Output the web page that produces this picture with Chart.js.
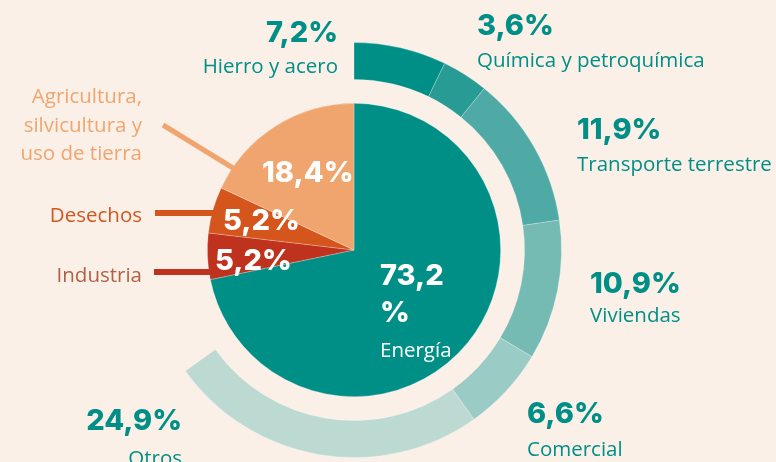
<!DOCTYPE html>
<html>
<head>
<meta charset="utf-8">
<script src="https://cdn.jsdelivr.net/npm/chart.js@4.4.1/dist/chart.umd.min.js"></script>
<style>
  html, body { margin: 0; padding: 0; background: #faf0e8; }
  #wrap { width: 776px; height: 462px; position: relative; }
</style>
</head>
<body>
<div id="wrap"><canvas id="chart" width="776" height="462"></canvas></div>
<script>
// emisiones por sector (circulo interior) y subsectores de energia (anillo)
var sector_labels = ['Energía', 'Industria', 'Desechos', 'Agricultura, silvicultura y uso de tierra'];
var sector_values = [73.2, 5.2, 5.2, 18.4];
var sector_colors = ['#008f86', '#bf321e', '#d4561d', '#f0a56e'];

var energy_labels = ['Hierro y acero', 'Química y petroquímica', 'Transporte terrestre', 'Viviendas', 'Comercial', 'Otros'];
var energy_values = [7.2, 3.6, 11.9, 10.9, 6.6, 24.9];
var energy_colors = ['#008f86', '#289b94', '#4faaa6', '#76bab4', '#9bcbc5', '#bcd9d2'];

var TEAL = '#008f86';
var BOLD = '800 29px Inter, "Open Sans", sans-serif';
var REG = '20.5px "Open Sans", sans-serif';

function fmt(v) {
    return v.toFixed(1).replace('.', ',') + '%';
}

// anillo: el resto hasta 100% queda vacio
var ring_rest = 100 - energy_values.reduce(function (a, b) { return a + b; }, 0);

function ring_data() {
    return {
        data: energy_values.concat([ring_rest]),
        backgroundColor: energy_colors.concat(['rgba(0,0,0,0)']),
        borderColor: 'rgba(255,255,255,0.25)',
        borderWidth: energy_values.map(function () { return 1; }).concat([0]),
        weight: 37
    };
}

// anotaciones: [texto, x, y, align, font, color]
var notes = [
    [fmt(energy_values[0]), 338, 42, 'right', BOLD, TEAL],
    [energy_labels[0], 338, 73, 'right', REG, TEAL],
    [fmt(energy_values[1]), 477, 35, 'left', BOLD, TEAL],
    [energy_labels[1], 477, 67, 'left', REG, TEAL],
    [fmt(energy_values[2]), 577, 139, 'left', BOLD, TEAL],
    [energy_labels[2], 577, 171, 'left', REG, TEAL],
    [fmt(energy_values[3]), 590, 293, 'left', BOLD, TEAL],
    [energy_labels[3], 590, 322, 'left', REG, TEAL],
    [fmt(energy_values[4]), 527, 423, 'left', BOLD, TEAL],
    [energy_labels[4], 527, 456, 'left', REG, TEAL],
    [fmt(energy_values[5]), 182, 430, 'right', BOLD, TEAL],
    [energy_labels[5], 182, 465, 'right', REG, TEAL],
    ['Agricultura,', 142, 103, 'right', REG, '#f0a56e'],
    ['silvicultura y', 142, 132, 'right', REG, '#f0a56e'],
    ['uso de tierra', 142, 160, 'right', REG, '#f0a56e'],
    [sector_labels[2], 142, 222, 'right', REG, '#d4561d'],
    [sector_labels[1], 142, 282, 'right', REG, '#b35f44'],
    [fmt(sector_values[3]), 262, 182, 'left', BOLD, '#ffffff'],
    [fmt(sector_values[2]), 223, 230, 'left', BOLD, '#ffffff'],
    [fmt(sector_values[1]), 215, 270, 'left', BOLD, '#ffffff'],
    ['73,2', 380, 285, 'left', BOLD, '#ffffff'],
    ['%', 380, 322, 'left', BOLD, '#ffffff'],
    [sector_labels[0], 380, 357, 'left', REG, '#ffffff']
];

// lineas guia: [x1, y1, x2, y2, ancho, color]
var leaders = [
    [163, 125, 233, 168, 5, '#f0a56e'],
    [155, 213, 216, 213, 6, '#d4561d'],
    [154, 272, 212, 272, 6, '#bf321e']
];

var annotate = {
    id: 'annotate',
    beforeDraw: function (chart) {
        var ctx = chart.ctx;
        ctx.save();
        ctx.fillStyle = '#faf0e8';
        ctx.fillRect(0, 0, chart.width, chart.height);
        ctx.restore();
    },
    afterDraw: function (chart) {
        var ctx = chart.ctx;
        ctx.save();
        leaders.forEach(function (l) {
            ctx.beginPath();
            ctx.moveTo(l[0], l[1]);
            ctx.lineTo(l[2], l[3]);
            ctx.lineWidth = l[4];
            ctx.strokeStyle = l[5];
            ctx.stroke();
        });
        ctx.textBaseline = 'alphabetic';
        notes.forEach(function (n) {
            ctx.font = n[4];
            ctx.textAlign = n[3];
            ctx.fillStyle = n[5];
            ctx.fillText(n[0], n[1], n[2]);
        });
        ctx.restore();
    }
};

var ctx = document.getElementById('chart').getContext('2d');
var myChart = new Chart(ctx, {
    type: 'doughnut',
    data: {
        labels: energy_labels.concat(['']),
        datasets: [
            ring_data(),
            { data: [1], backgroundColor: ['rgba(0,0,0,0)'], borderWidth: 0, weight: 24 },
            {
                data: sector_values,
                backgroundColor: sector_colors,
                borderColor: 'rgba(255,255,255,0.25)',
                borderWidth: 1,
                weight: 147
            }
        ]
    },
    options: {
        responsive: false,
        animation: false,
        events: [],
        cutout: 0,
        layout: { padding: { left: 146, right: 214, top: 42, bottom: 4 } },
        plugins: {
            legend: { display: false },
            tooltip: { enabled: false }
        }
    },
    plugins: [annotate]
});
</script>
</body>
</html>
